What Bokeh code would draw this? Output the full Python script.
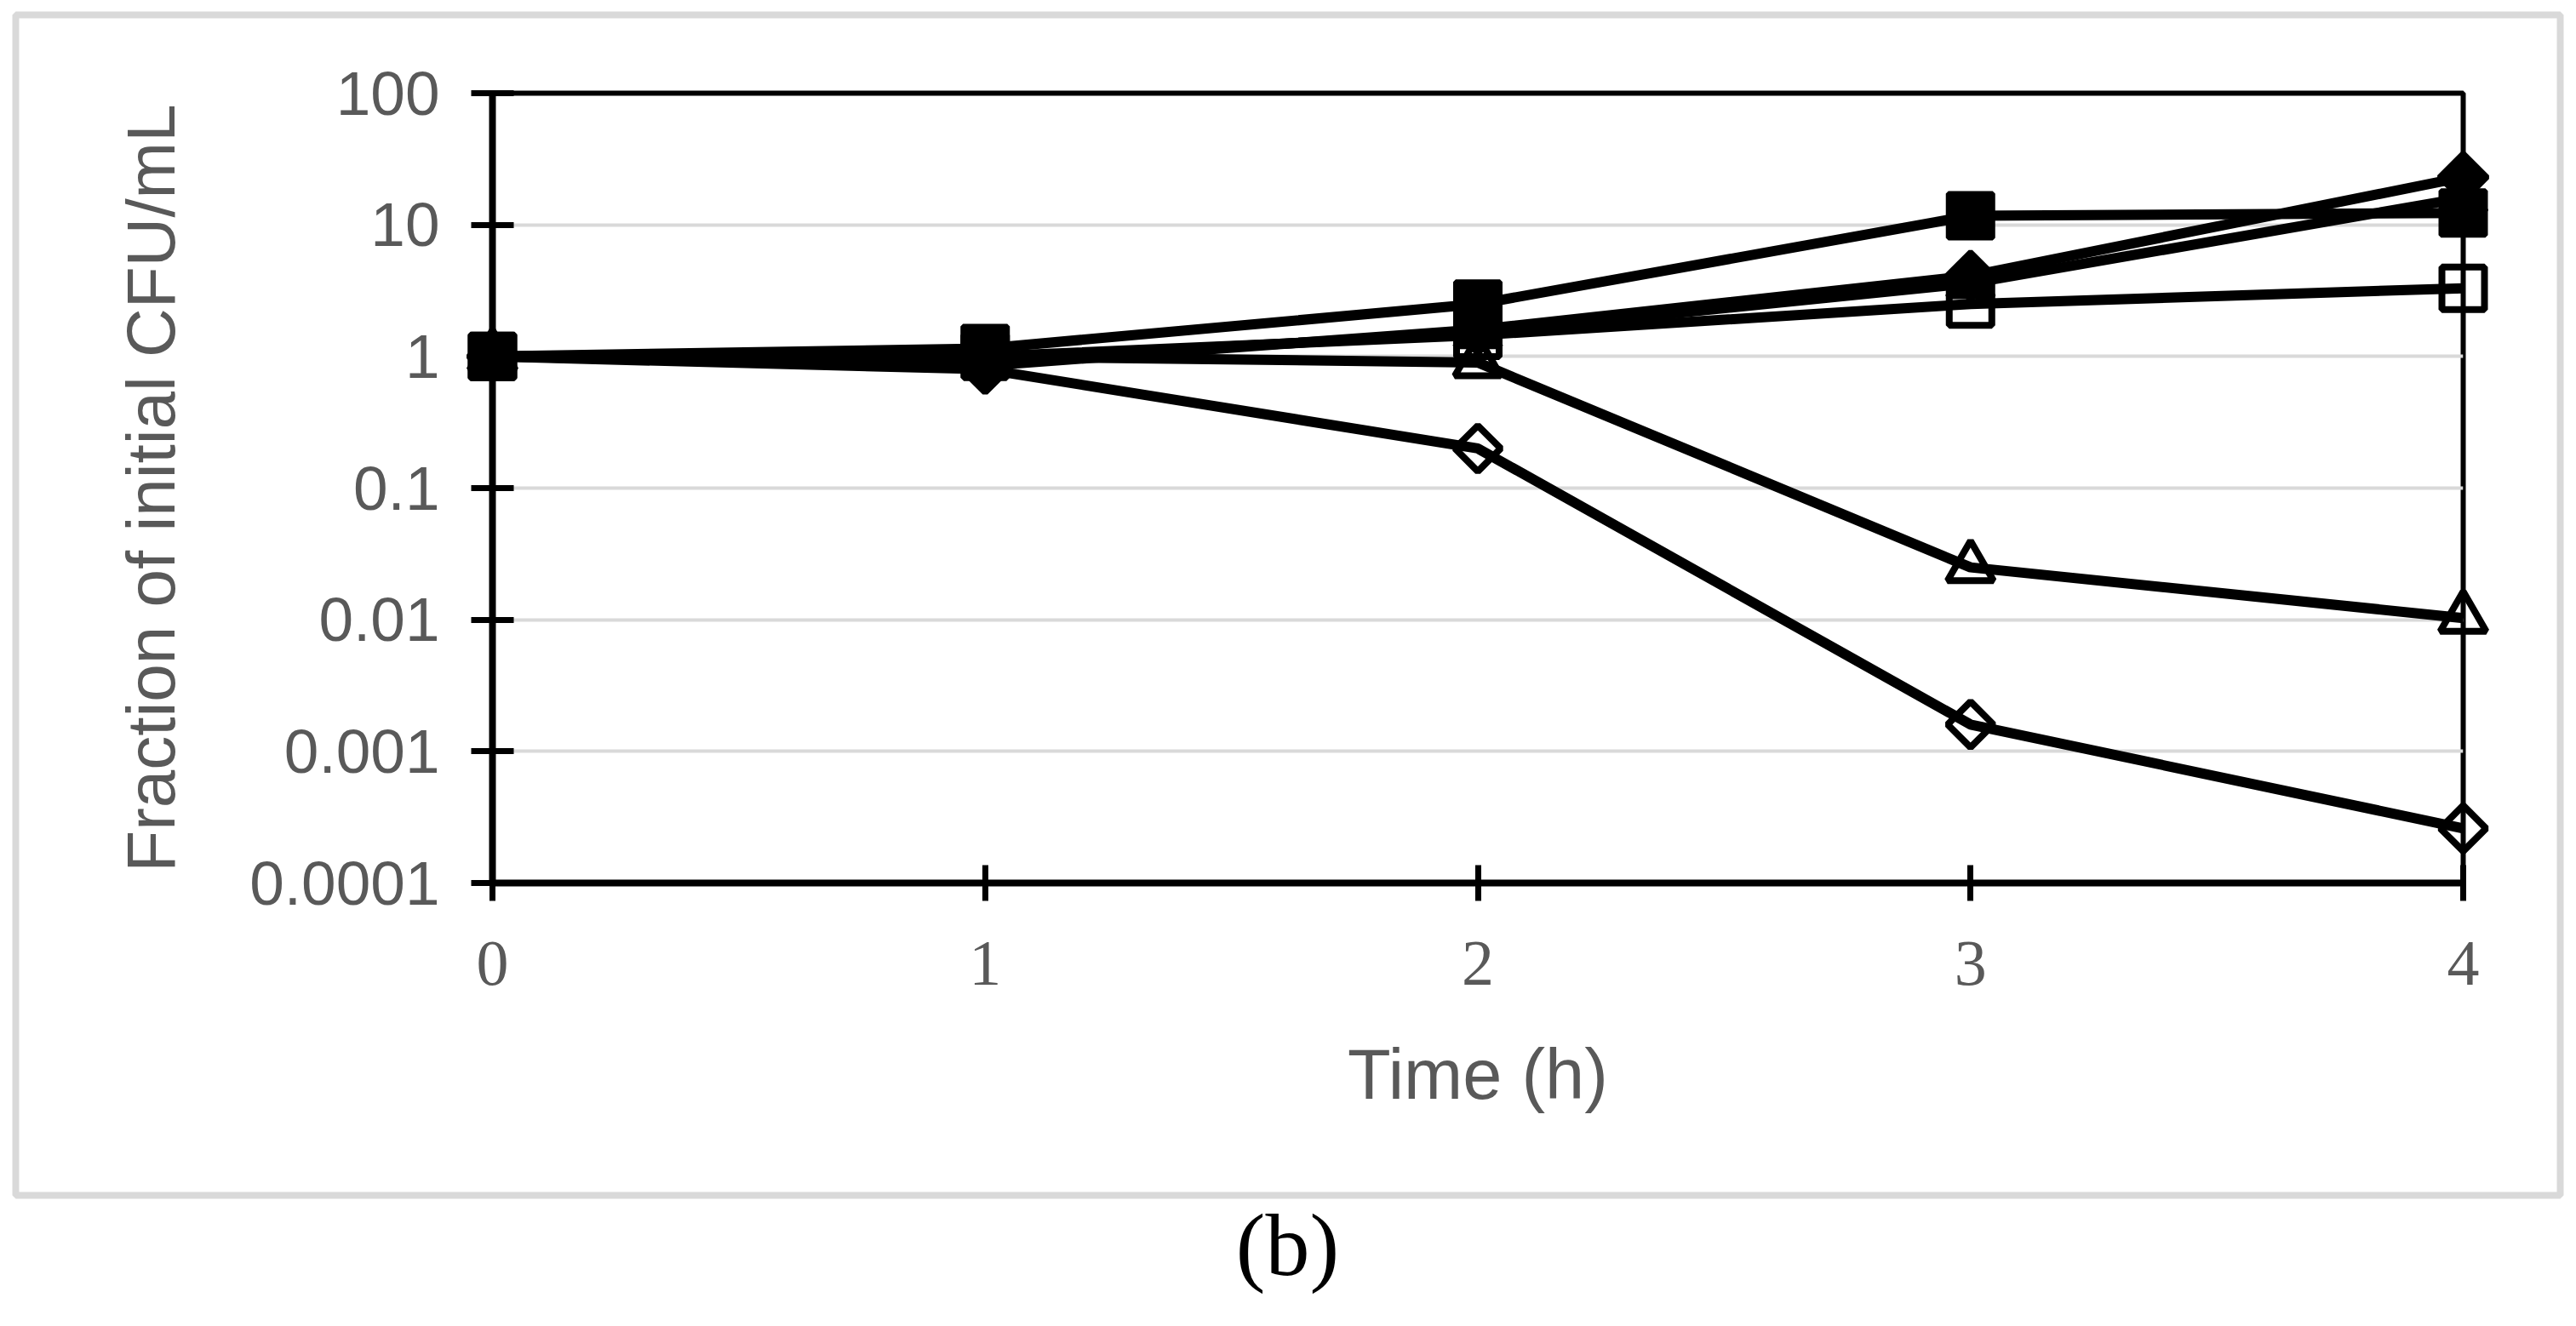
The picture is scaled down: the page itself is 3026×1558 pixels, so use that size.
import math
from bokeh.plotting import figure
from bokeh.models import Range1d, FixedTicker
from bokeh.core.properties import value
from bokeh.embed import file_html
from bokeh.resources import INLINE

# ---- data ----
time_h = [0, 1, 2, 3, 4]
x_tick_labels = ["0", "1", "2", "3", "4"]
y_ticks = [0.0001, 0.001, 0.01, 0.1, 1, 10, 100]
y_tick_labels = ["0.0001", "0.001", "0.01", "0.1", "1", "10", "100"]

open_diamond = [1.0, 0.80, 0.20, 0.0016, 0.00026]
open_triangle = [1.0, 1.0, 0.90, 0.025, 0.0103]
open_square = [1.0, 1.0, 1.45, 2.5, 3.3]
filled_triangle = [1.0, 0.95, 1.5, 3.6, 16.0]
filled_diamond = [1.0, 0.85, 1.6, 4.1, 23.0]
filled_square = [1.0, 1.15, 2.5, 11.7, 12.3]

GRAY = "#595959"

# ---- layout (canvas pixels) ----
W, H = 3016, 1550
FL, FR, FT, FB = 578, 2893, 109, 1037
X0, X1 = 0, 4
LY0, LY1 = -4, 2


def dx(px):
    return X0 + (px - FL) / (FR - FL) * (X1 - X0)


def dy(py):
    return 10 ** (LY0 + (FB - py) / (FB - FT) * (LY1 - LY0))


p = figure(width=W, height=H, title=None,
           x_range=Range1d(X0, X1), y_range=Range1d(10 ** LY0, 10 ** LY1),
           y_axis_type="log", output_backend="svg", toolbar_location=None,
           min_border_left=FL, min_border_right=W - FR,
           min_border_top=FT, min_border_bottom=H - FB)
p.background_fill_color = "white"
p.border_fill_color = "white"
p.outline_line_color = "black"
p.outline_line_width = 6

xa = p.xaxis[0]
ya = p.yaxis[0]
xa.ticker = FixedTicker(ticks=time_h)
xa.major_label_overrides = {t: lab for t, lab in zip(time_h, x_tick_labels)}
ya.ticker = FixedTicker(ticks=y_ticks)
ya.major_label_overrides = {v: lab for v, lab in zip(y_ticks, y_tick_labels)}

for ax in (xa, ya):
    ax.axis_line_color = "black"
    ax.axis_line_width = 8
    ax.major_tick_line_color = "black"
    ax.major_tick_line_width = 7
    ax.minor_tick_line_color = None
    ax.major_label_text_color = GRAY
    ax.axis_label_text_color = GRAY
    ax.axis_label_text_font_style = "normal"
    ax.axis_label_text_font = "Liberation Sans"

xa.major_tick_in = 21
xa.major_tick_out = 21
xa.major_label_text_font = "Liberation Serif"
xa.major_label_text_font_size = "76px"
xa.major_label_standoff = 48
xa.axis_label = "Time (h)"
xa.axis_label_text_font_size = "83px"
xa.axis_label_standoff = 56

ya.major_tick_in = 25
ya.major_tick_out = 25
ya.major_label_text_font = "Liberation Sans"
ya.major_label_text_font_size = "73px"
ya.major_label_standoff = 37
ya.axis_label = "Fraction of initial CFU/mL"
ya.axis_label_text_font_size = "80px"
ya.axis_label_standoff = 68

p.xgrid.grid_line_color = None
p.ygrid.grid_line_color = "#d9d9d9"
p.ygrid.grid_line_width = 4

# outer light-gray border around the chart area
bl, br, bt, bb = 18, 3007, 17, 1404
p.rect(x=[dx((bl + br) / 2)], y=[dy((bt + bb) / 2)],
       width=br - bl, height=bb - bt, width_units="screen", height_units="screen",
       fill_color=None, line_color="#d9d9d9", line_width=8, level="overlay")

series = [
    (open_diamond, "square", math.pi / 4, 38, None, 8),
    (open_triangle, "triangle", 0.0, 54, None, 8),
    (open_square, "square", 0.0, 50, None, 8),
    (filled_triangle, "triangle", 0.0, 54, "black", 6),
    (filled_diamond, "square", math.pi / 4, 40, "black", 6),
    (filled_square, "square", 0.0, 52, "black", 6),
]
for vals, mk, ang, sz, fill, lw in series:
    p.line(time_h, vals, line_color="black", line_width=12, level="overlay")
    p.scatter(time_h, vals, marker=mk, angle=ang, size=sz, fill_color=fill,
              line_color="black", line_width=lw, level="overlay")

# panel caption below the chart
p.text(x=[dx(1512)], y=[dy(1462)], text=["(b)"], text_align="center",
       text_baseline="middle", text_font=value("Liberation Serif"),
       text_font_size="104px", text_color="black", level="overlay")

open("out.html", "w").write(file_html(p, INLINE))
